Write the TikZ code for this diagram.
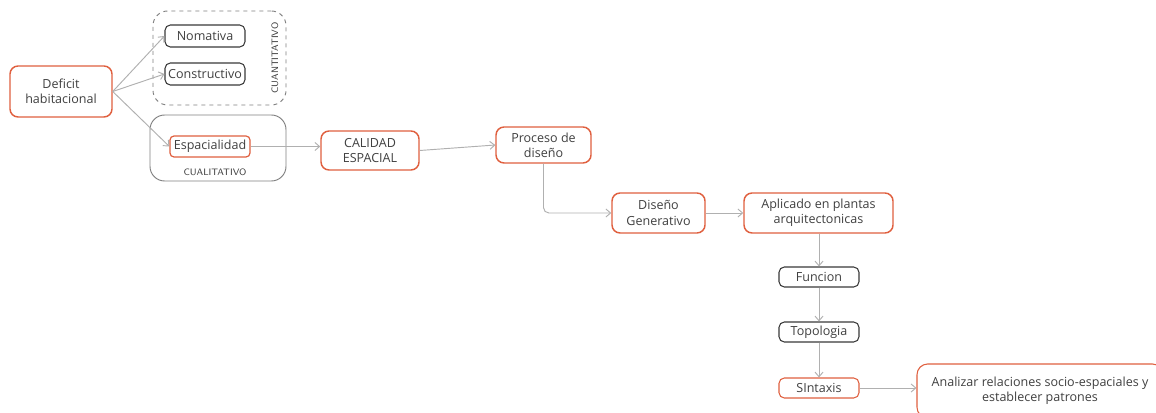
\documentclass[tikz,border=0pt]{standalone}
\usepackage{fontspec}
\setmainfont{Open Sans}
\usetikzlibrary{arrows.meta,calc}
\definecolor{redb}{HTML}{E0603F}
\definecolor{darkb}{HTML}{3A3A3A}
\definecolor{linec}{HTML}{B0B0B0}
\definecolor{txt}{HTML}{404040}
\begin{document}
\begin{tikzpicture}[x=0.75pt,y=-0.75pt,
  redbox/.style={draw=redb,line width=1.1pt,rounded corners=6pt,align=center,text=txt,font=\fontsize{9.4}{11.5}\selectfont,inner sep=0pt},
  darkbox/.style={draw=darkb,line width=0.8pt,rounded corners=4pt,align=center,text=txt,font=\fontsize{9.4}{11.5}\selectfont,inner sep=0pt},
  conn/.style={draw=linec,line width=0.7pt,-{Straight Barb[length=3.5pt,width=6pt]}},
  grp/.style={draw=gray,line width=0.7pt,rounded corners=11pt},
  small/.style={font=\sffamily\fontsize{7}{8}\selectfont,text=txt}]
\clip (0,0) rectangle (1156,413);
\fill[white] (0,0) rectangle (1156,413);
% groups
\node[grp,dashed,minimum width=133*0.75pt,minimum height=94*0.75pt] (gq) at (219.5,58) {};
\node[grp,minimum width=136*0.75pt,minimum height=66*0.75pt] (gc) at (218,148) {};
\node[small,rotate=90] (lq) at (275,58) {CUANTITATIVO};
\node[small] (lc) at (215,172) {CUALITATIVO};
% nodes
\node[redbox,minimum width=102*0.75pt,minimum height=51*0.75pt] (def) at (61,91.5) {Deficit\\habitacional};
\node[darkbox,minimum width=80*0.75pt,minimum height=22*0.75pt] (nom) at (205,36) {Nomativa};
\node[darkbox,minimum width=80*0.75pt,minimum height=22*0.75pt] (con) at (205,74) {Constructivo};
\node[redbox,line width=0.9pt,rounded corners=3pt,minimum width=80*0.75pt,minimum height=21*0.75pt] (esp) at (210,146.5) {Espacialidad};
\node[redbox,minimum width=98*0.75pt,minimum height=39*0.75pt] (cal) at (370,150.5) {CALIDAD\\ESPACIAL};
\node[redbox,minimum width=95*0.75pt,minimum height=36*0.75pt] (pro) at (543.5,145) {Proceso de\\diseño};
\node[redbox,minimum width=93*0.75pt,minimum height=40*0.75pt] (gen) at (658.5,213) {Diseño\\Generativo};
\node[redbox,minimum width=149*0.75pt,minimum height=40*0.75pt] (apl) at (818.5,213) {Aplicado en plantas\\arquitectonicas};
\node[darkbox,minimum width=80*0.75pt,minimum height=20*0.75pt] (fun) at (819,277) {Funcion};
\node[darkbox,minimum width=80*0.75pt,minimum height=20*0.75pt] (top) at (819,332) {Topologia};
\node[redbox,line width=0.8pt,rounded corners=4pt,minimum width=80*0.75pt,minimum height=20*0.75pt] (sin) at (819,388) {SIntaxis};
\node[redbox,line width=0.8pt,rounded corners=8pt,minimum width=246*0.75pt,minimum height=54*0.75pt] (ana) at (1040,391) {Analizar relaciones socio-espaciales y\\establecer patrones};
% connectors
\draw[conn] (def.east) -- (nom.west);
\draw[conn] (def.east) -- (con.west);
\draw[conn] (def.east) -- (esp.west);
\draw[conn] (esp.east) -- (esp.east -| cal.west);
\draw[conn] (cal.east) -- (pro.west);
\draw[conn,rounded corners=4pt] (pro.south) |- (gen.west);
\draw[conn] (gen.east) -- (apl.west);
\draw[conn] (apl.south -| fun.north) -- (fun.north);
\draw[conn] (fun.south) -- (top.north);
\draw[conn] (top.south) -- (sin.north);
\draw[conn] (sin.east) -- (sin.east -| ana.west);
\end{tikzpicture}
\end{document}
